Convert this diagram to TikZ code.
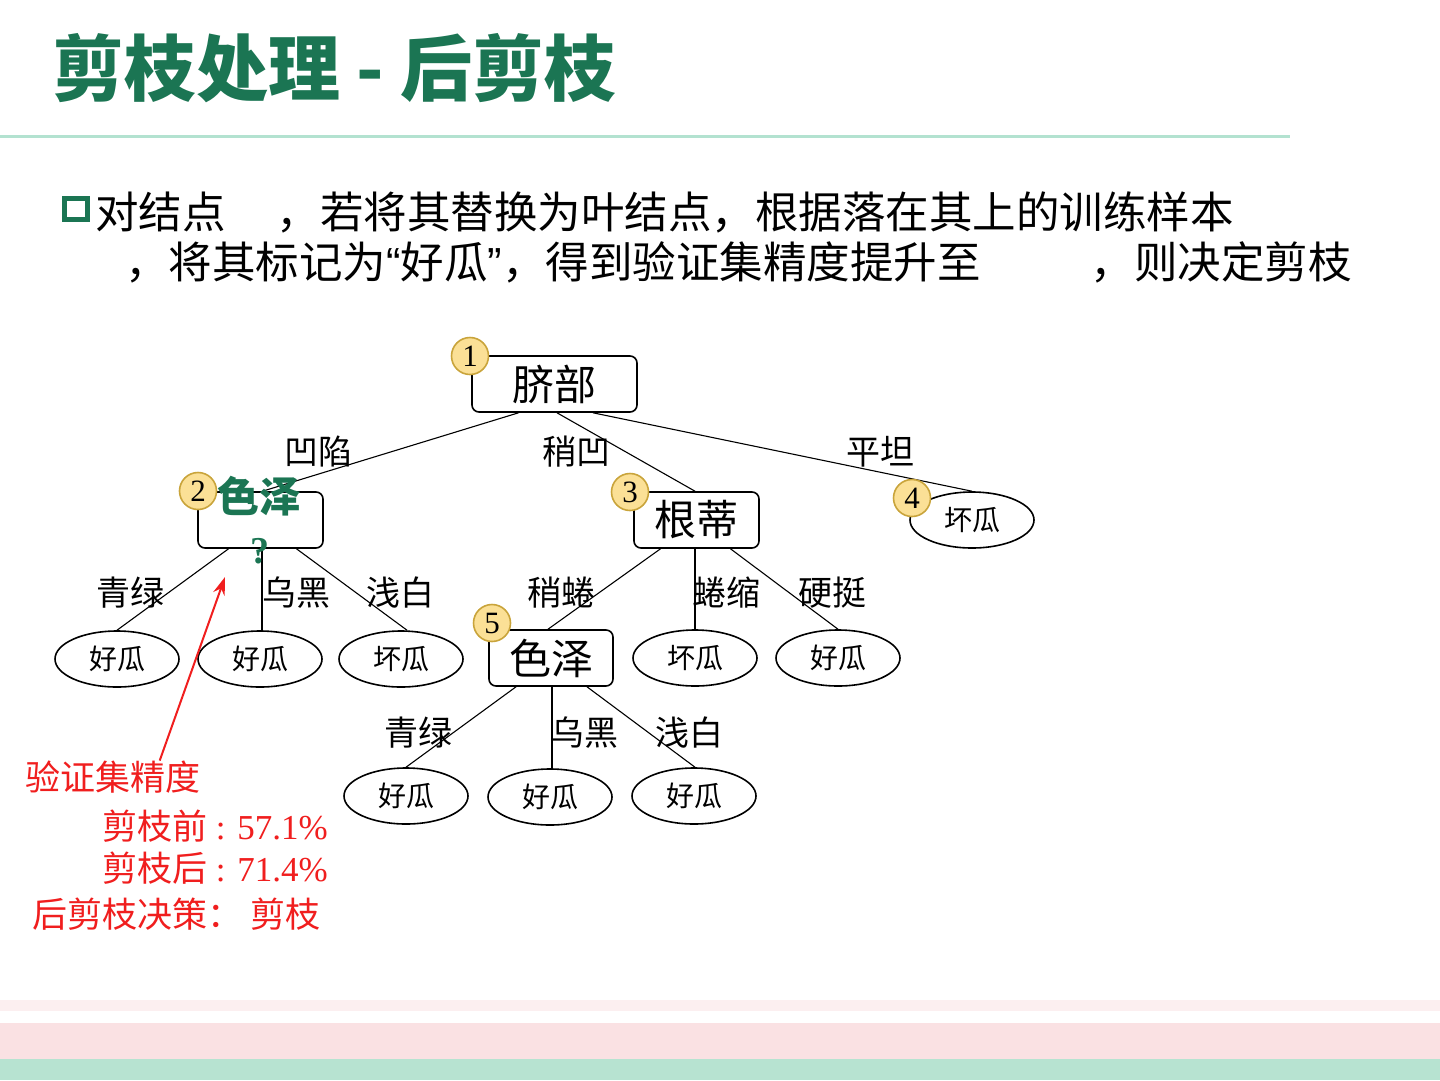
\documentclass[tikz,border=0pt]{standalone}
\usepackage{fontspec}
\setmainfont{Liberation Serif}
\newfontfamily\cjk{Noto Sans CJK SC}
\newfontfamily\lat{Liberation Sans}
\usetikzlibrary{arrows.meta,shapes.geometric}
\definecolor{tgreen}{HTML}{1B7553}
\definecolor{lgreen}{HTML}{B3E2D0}
\definecolor{badgefill}{HTML}{FBE096}
\definecolor{badgeline}{HTML}{C9A43B}
\definecolor{rtext}{HTML}{F01E1E}
\definecolor{pinkA}{HTML}{FCEFF0}
\definecolor{pinkB}{HTML}{FAE1E3}
\definecolor{greenB}{HTML}{B7E3D1}
\tikzset{
 attr/.style={draw, rounded corners=7pt, line width=1.6pt, minimum width=125pt, minimum height=56pt, inner sep=0pt, font=\cjk\fontsize{42}{42}\selectfont},
 leaf/.style={draw, ellipse, line width=1.6pt, minimum width=124pt, minimum height=56pt, inner sep=0pt, font=\cjk\fontsize{28}{28}\selectfont},
 badge/.style={circle, draw=badgeline, fill=badgefill, line width=1.6pt, minimum size=37pt, inner sep=0pt, font=\fontsize{31}{31}\selectfont},
 blabel/.style={inner sep=0pt, font=\cjk\fontsize{34}{34}\selectfont},
 body/.style={inner sep=0pt, font=\cjk\fontsize{43.5}{43.5}\selectfont},
 redtxt/.style={inner sep=0pt, text=rtext, font=\fontsize{35}{35}\selectfont},
 edge/.style={line width=1.1pt},
}
\begin{document}
\begin{tikzpicture}[x=1pt,y=-1pt]
\useasboundingbox (0,0) rectangle (1440,1080);
% bottom bands
\fill[pinkA] (0,1000) rectangle (1440,1011);
\fill[pinkB] (0,1023) rectangle (1440,1059);
\fill[greenB] (0,1059) rectangle (1440,1080);
% title
\node[inner sep=0pt, anchor=west, text=tgreen, font=\cjk\bfseries\fontsize{72}{72}\selectfont] (title) at (52,68) {剪枝处理 - 后剪枝};
\draw[lgreen, line width=3pt] (0,136) -- (1290,136);
% bullet text
\draw[tgreen, line width=5pt] (64.5,198.5) rectangle (87.5,219.5);
\node[body, anchor=west] (t1a) at (95,212) {对结点};
\node[body, anchor=east] (t1b) at (1234,212) {，若将其替换为叶结点，根据落在其上的训练样本};
\node[body, anchor=west] (t2a) at (125,262) {，将其标记为{\lat“}好瓜{\lat”}，得到验证集精度提升至};
\node[body, anchor=east] (t2b) at (1352,262) {，则决定剪枝};
% tree nodes
\node[attr, minimum width=165pt] (n1) at (554.5,384) {脐部};
\node[attr] (n2) at (260.5,520) {};
\node[attr] (n3) at (696.5,520) {根蒂};
\node[leaf] (n4) at (972,520) {坏瓜};
\node[leaf] (l21) at (117,659) {好瓜};
\node[leaf] (l22) at (260,659) {好瓜};
\node[leaf] (l23) at (401,659) {坏瓜};
\node[attr, minimum width=124pt] (n5) at (551,658) {色泽};
\node[leaf] (l32) at (695,658) {坏瓜};
\node[leaf] (l33) at (838,658) {好瓜};
\node[leaf] (l51) at (406,796) {好瓜};
\node[leaf] (l52) at (550,797) {好瓜};
\node[leaf] (l53) at (694,796) {好瓜};
% edges
\draw[edge] ([xshift=-36pt]n1.south) -- ([xshift=2pt]n2.north);
\draw[edge] ([xshift=2.5pt]n1.south) -- ([xshift=-1.5pt]n3.north);
\draw[edge] ([xshift=38.5pt]n1.south) -- (n4.north);
\draw[edge] ([xshift=-32pt]n2.south) -- (l21.north);
\draw[edge] ([xshift=1.5pt]n2.south) -- ([xshift=2pt]l22.north);
\draw[edge] ([xshift=36pt]n2.south) -- ([xshift=6pt]l23.north);
\draw[edge] ([xshift=-36pt]n3.south) -- ([xshift=-3pt]n5.north);
\draw[edge] ([xshift=-1.5pt]n3.south) -- (l32.north);
\draw[edge] ([xshift=34pt]n3.south) -- (l33.north);
\draw[edge] ([xshift=-35pt]n5.south) -- (l51.north);
\draw[edge] ([xshift=1pt]n5.south) -- ([xshift=2pt]l52.north);
\draw[edge] ([xshift=36pt]n5.south) -- ([xshift=1pt]l53.north);
% node 2 text
\node[inner sep=0pt, text=tgreen, font=\cjk\bfseries\fontsize{42}{42}\selectfont] (n2t) at (259,496) {色泽};
\node[inner sep=0pt, text=tgreen, font=\bfseries\fontsize{38}{38}\selectfont] (n2q) at (260,551) {?};
% branch labels
\node[blabel] (b11) at (318,452) {凹陷};
\node[blabel] (b12) at (576,452) {稍凹};
\node[blabel] (b13) at (880,452) {平坦};
\node[blabel] (b21) at (130,593) {青绿};
\node[blabel] (b22) at (296,593) {乌黑};
\node[blabel] (b23) at (400,593) {浅白};
\node[blabel] (b31) at (561,593) {稍蜷};
\node[blabel] (b32) at (726,593) {蜷缩};
\node[blabel] (b33) at (832,593) {硬挺};
\node[blabel] (b51) at (418,733) {青绿};
\node[blabel] (b52) at (584,733) {乌黑};
\node[blabel] (b53) at (689,733) {浅白};
% badges
\node[badge] (c1) at (470,356) {1};
\node[badge] (c2) at (198,491) {2};
\node[badge] (c3) at (630,492) {3};
\node[badge] (c4) at (912,498) {4};
\node[badge] (c5) at (492,623) {5};
% red annotation
\node[redtxt, anchor=west] (r1) at (25,777) {\cjk 验证集精度};
\node[redtxt, anchor=west] (r2) at (102,826) {{\cjk 剪枝前} : 57.1\%};
\node[redtxt, anchor=west] (r3) at (102,868) {{\cjk 剪枝后} : 71.4\%};
\node[redtxt, anchor=west] (r4) at (32,914) {{\cjk 后剪枝决策：}\ {\cjk 剪枝}};
\coordinate (atip) at (225,577);
\draw[rtext, line width=2pt, -{Stealth[length=18pt,width=12pt]}] ([xshift=47pt]r1.north) -- (atip);
\end{tikzpicture}
\end{document}
